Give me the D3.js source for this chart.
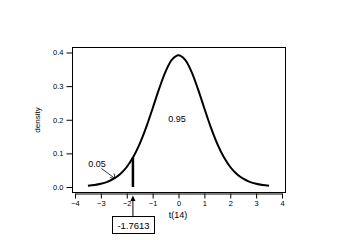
<!DOCTYPE html>
<html>
<head>
<meta charset="utf-8">
<script src="https://cdn.jsdelivr.net/npm/d3@7"></script>
<style>
  body { margin: 0; background: #fff; }
  text { font-family: "Liberation Sans", Arial, sans-serif; fill: #000; }
</style>
</head>
<body>
<div id="chart"></div>
<script>
// t(14) density
const tValues = [-3.5, -3.25, -3, -2.75, -2.5, -2.25, -2, -1.75, -1.5, -1.25, -1, -0.75, -0.5, -0.25, 0,
                 0.25, 0.5, 0.75, 1, 1.25, 1.5, 1.75, 2, 2.25, 2.5, 2.75, 3, 3.25, 3.5];
const densities = [0.0035, 0.0058, 0.0095, 0.0154, 0.0246, 0.0387, 0.0595, 0.0889, 0.1281, 0.1772, 0.2336, 0.2916, 0.3432, 0.3790, 0.3919,
                   0.3790, 0.3432, 0.2916, 0.2336, 0.1772, 0.1281, 0.0889, 0.0595, 0.0387, 0.0246, 0.0154, 0.0095, 0.0058, 0.0035];
const xTicks = [-4, -3, -2, -1, 0, 1, 2, 3, 4];
const yTicks = [0.0, 0.1, 0.2, 0.3, 0.4];
const critical = -1.7613;
const critDensity = 0.0873;
const tailLabel = "0.05";
const bodyLabel = "0.95";

const width = 355, height = 240;

const svg = d3.select("#chart").append("svg")
    .attr("width", width)
    .attr("height", height);

const x = d3.scaleLinear().domain([-4, 4]).range([75, 282]);
const y = d3.scaleLinear().domain([0, 0.4]).range([187, 52.5]);

// frame
svg.append("rect")
    .attr("x", 72.5).attr("y", 47.5)
    .attr("width", 213).attr("height", 145)
    .attr("fill", "none").attr("stroke", "#000").attr("stroke-width", 1);

// axes
const xAxis = d3.axisBottom(x).tickValues(xTicks).tickSize(5).tickSizeOuter(0)
    .tickFormat(d3.format("d"));
const gx = svg.append("g").attr("transform", "translate(0,193.5)").call(xAxis);
gx.select(".domain").attr("stroke-width", 1);
gx.selectAll("text").attr("font-size", 7.5).attr("font-family", "Liberation Sans, Arial, sans-serif").attr("dy", "0.55em");

const yAxis = d3.axisLeft(y).tickValues(yTicks).tickSize(6).tickSizeOuter(0)
    .tickFormat(d3.format(".1f"));
const gy = svg.append("g").attr("transform", "translate(72.5,0)").call(yAxis);
gy.select(".domain").remove();
gy.selectAll("text").attr("font-size", 7.5).attr("font-family", "Liberation Sans, Arial, sans-serif").attr("x", -9);

// axis titles
svg.append("text")
    .attr("transform", "translate(40,120) rotate(-90)")
    .attr("text-anchor", "middle")
    .attr("font-size", 8)
    .text("density");

svg.append("text")
    .attr("x", 178).attr("y", 218)
    .attr("text-anchor", "middle")
    .attr("font-size", 9)
    .text("t(14)");

// density curve
const pts = tValues.map((t, i) => [t, densities[i]]);
svg.append("path")
    .datum(pts)
    .attr("fill", "none")
    .attr("stroke", "#000")
    .attr("stroke-width", 2)
    .attr("d", d3.line().x(d => x(d[0])).y(d => y(d[1])).curve(d3.curveCatmullRom));

// critical value line
svg.append("line")
    .attr("x1", x(critical)).attr("x2", x(critical))
    .attr("y1", y(0)).attr("y2", y(critDensity))
    .attr("stroke", "#000").attr("stroke-width", 2.5);

// area labels
svg.append("text")
    .attr("x", 177).attr("y", 121.5)
    .attr("text-anchor", "middle")
    .attr("font-size", 9)
    .text(bodyLabel);

svg.append("text")
    .attr("x", 97).attr("y", 167)
    .attr("text-anchor", "middle")
    .attr("font-size", 9)
    .text(tailLabel);

// leader line from 0.05 to the tail
const lx1 = 101.5, ly1 = 168.5, lx2 = x(-2.45), ly2 = y(0.025);
svg.append("line")
    .attr("x1", lx1).attr("y1", ly1).attr("x2", lx2).attr("y2", ly2)
    .attr("stroke", "#000").attr("stroke-width", 0.8);
svg.append("path")
    .attr("d", `M${lx2 - 5},${ly2 - 1} L${lx2},${ly2} L${lx2 - 1},${ly2 - 5}`)
    .attr("fill", "none").attr("stroke", "#000").attr("stroke-width", 0.8);

// critical value box with arrow
const cx = x(critical);
svg.append("line")
    .attr("x1", cx).attr("x2", cx)
    .attr("y1", 216.5).attr("y2", 199)
    .attr("stroke", "#000").attr("stroke-width", 1);
svg.append("path")
    .attr("d", `M${cx},195.5 L${cx - 2.5},201 L${cx + 2.5},201 Z`)
    .attr("fill", "#000");

svg.append("rect")
    .attr("x", 112.5).attr("y", 216.5)
    .attr("width", 42).attr("height", 17)
    .attr("fill", "#fff").attr("stroke", "#000").attr("stroke-width", 1);
svg.append("text")
    .attr("x", 133.5).attr("y", 228.5)
    .attr("text-anchor", "middle")
    .attr("font-size", 9.5)
    .text(critical.toFixed(4));
</script>
</body>
</html>
